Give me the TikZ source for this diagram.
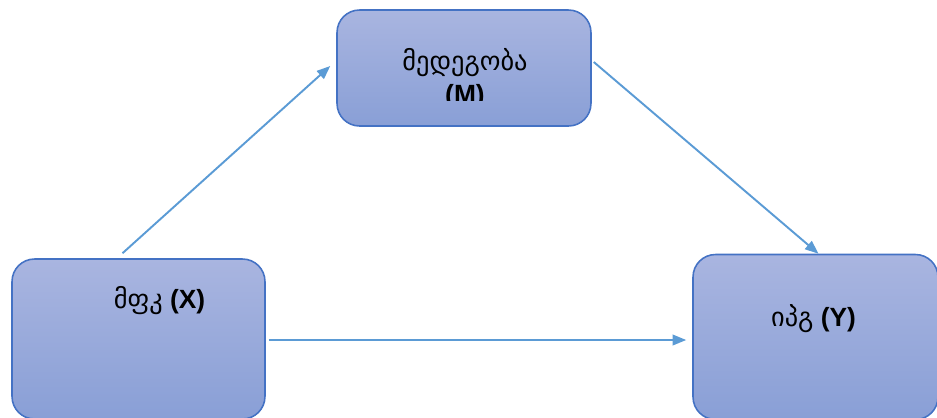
\documentclass[tikz,border=0pt]{standalone}
\usepackage{fontspec}
\setmainfont{Liberation Sans}
\newfontfamily\geo{DejaVu Sans}
\usetikzlibrary{calc,arrows.meta}

\definecolor{boxtop}{RGB}{169,181,224}
\definecolor{boxbot}{RGB}{137,159,214}
\definecolor{boxline}{RGB}{68,114,196}
\definecolor{arrline}{RGB}{91,155,213}

\tikzset{
  varbox/.style={draw=boxline, line width=0.9pt, rounded corners=0.45cm,
    top color=boxtop, bottom color=boxbot, inner sep=0pt},
  vartext/.style={font=\fontsize{15}{16}\selectfont, align=center, inner sep=0pt},
  arr/.style={draw=arrline, line width=1.1pt,
    -{Triangle[length=0.27cm,width=0.21cm]}}
}

\begin{document}
\begin{tikzpicture}[x=0.02cm, y=-0.02cm]

\useasboundingbox (0,0) rectangle (937,417);

% the three boxes
\node[varbox, minimum width=5.08cm, minimum height=2.32cm] (M) at (464,68) {};
\node[varbox, minimum width=5.06cm, minimum height=3.2cm] (X) at (138.5,339) {};
\node[varbox, minimum width=4.9cm, minimum height=3.3cm] (Y) at (815.5,337) {};

% texts
\begin{scope}
\clip (337,10) rectangle (591,100);
\node[vartext] (Mtxt) at ($(M.center)+(1,11)$) {{\geo მედეგობა}\\[3pt]\textbf{(M)}};
\end{scope}
\node[vartext] (Xtxt) at ($(X.center)+(21,-38)$) {{\geo მფკ} \textbf{(X)}};
\node[vartext] (Ytxt) at ($(Y.center)+(-2,-18)$) {{\geo იპგ} \textbf{(Y)}};

% paths
\draw[arr] ($(X.north)+(-16,-5)$) -- ($(M.west)+(-6,-2)$);
\draw[arr] ($(M.east)+(2,-6)$) -- ($(Y.north)+(3,0)$);
\draw[arr] ($(X.east)+(3,1)$) -- ($(Y.west)+(-6,3)$);

\end{tikzpicture}
\end{document}
